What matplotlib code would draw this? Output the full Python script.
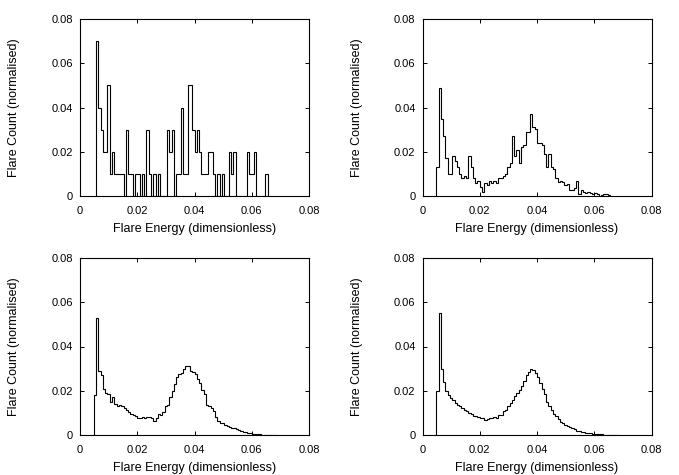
"""
Flare energy distributions for four simulation runs (2x2 panel figure).
Histograms are stored as per-bin normalised counts (in percent) on a
fixed grid of 0.0008-wide energy bins.
"""

import matplotlib

matplotlib.use("Agg")
import matplotlib.pyplot as plt
import numpy as np
from matplotlib.ticker import FuncFormatter

plt.rcParams["font.family"] = ["Liberation Sans", "DejaVu Sans"]

BIN_WIDTH = 0.0008

# first bin index (bin k spans [k*BIN_WIDTH, (k+1)*BIN_WIDTH]) and counts in %
q1_first_bin = 7
q1_pct = [7, 4, 3, 2, 2, 5, 1, 2, 1, 1, 1, 1, 0, 3, 1, 1, 0, 1, 1, 0,
          1, 0, 3, 1, 0, 1, 0, 1, 0, 0, 0,
          3, 2, 3, 0, 1, 1, 4, 1, 1, 5, 5, 3, 2, 3, 2, 1, 1, 1, 2, 2,
          1, 0, 1, 0, 1, 0, 0, 2, 1, 2,
          0, 0, 0, 0, 0, 2, 1, 1, 2, 0, 0, 0, 0, 1]

q2_first_bin = 6
q2_pct = [1.3, 4.9, 3.5, 2.7, 1.7, 1.0, 1.0, 1.8, 1.6, 1.3, 1.0, 0.8, 0.9,
          0.8, 1.8, 1.3, 0.8, 0.6, 0.7, 0.4, 0.2, 0.6, 0.5, 0.7, 0.6, 0.7,
          0.6, 0.8, 0.8, 0.9, 1.0, 1.3, 1.5, 2.7, 1.8, 2.1, 1.5, 2.2, 2.3,
          2.9, 2.9, 3.7, 3.1, 3.05, 2.4, 2.4, 2.3, 1.9, 1.3, 1.9, 1.3, 1.2,
          0.8, 0.65, 0.7, 0.65, 0.5, 0.55, 0.25, 0.25, 0.35, 0.7, 0.1, 0.25,
          0.2, 0.15, 0.2, 0.15, 0.1, 0.15, 0.1, 0.0, 0.05, 0.1, 0.1, 0.05]

q3_first_bin = 6
q3_pct = [1.8, 5.3, 2.9, 2.7, 2.1, 1.9, 1.85, 1.5, 1.7, 1.4, 1.3, 1.35, 1.3,
          1.2, 1.15, 1.05, 0.95, 0.9, 0.85, 0.75, 0.75, 0.8, 0.75, 0.8, 0.8,
          0.75, 0.65, 0.75, 0.95, 0.9, 1.05, 1.3, 1.35, 1.7, 2.0, 2.3, 2.6,
          2.75, 2.8, 3.0, 3.1, 3.1, 2.9, 2.85, 2.75, 2.55, 2.35, 2.05, 1.85,
          1.35, 1.3, 1.2, 1.07, 0.8, 0.65, 0.55, 0.52, 0.45, 0.42, 0.38, 0.33,
          0.3, 0.26, 0.22, 0.2, 0.15, 0.12, 0.1, 0.08, 0.06, 0.05, 0.04, 0.03,
          0.02, 0.02, 0.01, 0.01, 0.01, 0.005, 0.005]

q4_first_bin = 6
q4_pct = [2.0, 5.5, 3.0, 2.4, 2.0, 1.8, 1.65, 1.6, 1.45, 1.37, 1.33, 1.22,
          1.15, 1.1, 1.0, 0.93, 0.88, 0.85, 0.82, 0.78, 0.76, 0.7, 0.72, 0.75,
          0.77, 0.8, 0.77, 0.9, 0.9, 1.07, 1.15, 1.3, 1.45, 1.6, 1.75, 1.9,
          2.05, 2.2, 2.45, 2.7, 2.85, 3.0, 2.95, 2.8, 2.6, 2.35, 2.1, 1.85,
          1.5, 1.3, 1.15, 0.95, 0.85, 0.72, 0.6, 0.52, 0.46, 0.4, 0.35, 0.3,
          0.25, 0.2, 0.18, 0.15, 0.13, 0.11, 0.09, 0.07, 0.06, 0.05, 0.04,
          0.03, 0.025, 0.02, 0.015, 0.01, 0.01, 0.008, 0.005, 0.005]

PANELS = [
    (q1_first_bin, q1_pct),
    (q2_first_bin, q2_pct),
    (q3_first_bin, q3_pct),
    (q4_first_bin, q4_pct),
]

TICKS = [0, 0.02, 0.04, 0.06, 0.08]

# axes rectangles in figure pixels: left, top (from image top)
W, H = 679, 475
AX_W, AX_H = 229, 177
ORIGINS = [(80, 19), (422.5, 19), (80, 258), (422.5, 258)]
TICK_FS = 8
LABEL_FS = 9


def fmt(v, _pos):
    return "0" if abs(v) < 1e-12 else f"{v:.2f}"


def draw_panel(ax, first_bin, pct):
    vals = np.asarray(pct, dtype=float) / 100.0
    edges = (first_bin + np.arange(len(vals) + 1)) * BIN_WIDTH
    ax.stairs(vals, edges, baseline=0, color="black", lw=0.8)

    ax.set_xlim(0, 0.08)
    ax.set_ylim(0, 0.08)
    ax.set_xticks(TICKS)
    ax.set_yticks(TICKS)
    ax.xaxis.set_major_formatter(FuncFormatter(fmt))
    ax.yaxis.set_major_formatter(FuncFormatter(fmt))
    ax.tick_params(direction="in", length=3, width=0.7, top=True, right=True,
                   labelsize=TICK_FS, colors="black")
    ax.tick_params(axis="x", pad=7)
    ax.tick_params(axis="y", pad=5)
    for sp in ax.spines.values():
        sp.set_linewidth(0.8)

    ax.set_xlabel("Flare Energy (dimensionless)", fontsize=LABEL_FS)
    ax.set_ylabel("Flare Count (normalised)", fontsize=LABEL_FS)
    ax.xaxis.set_label_coords(0.5, -0.15)
    ax.yaxis.set_label_coords(-0.262, 0.5)


def main():
    fig = plt.figure(figsize=(W / 100, H / 100), dpi=100)
    for (left, top), (first_bin, pct) in zip(ORIGINS, PANELS):
        rect = [left / W, (H - top - AX_H) / H, AX_W / W, AX_H / H]
        ax = fig.add_axes(rect)
        draw_panel(ax, first_bin, pct)

    fig.savefig("out.png", dpi=100)
    plt.close(fig)


if __name__ == "__main__":
    main()
